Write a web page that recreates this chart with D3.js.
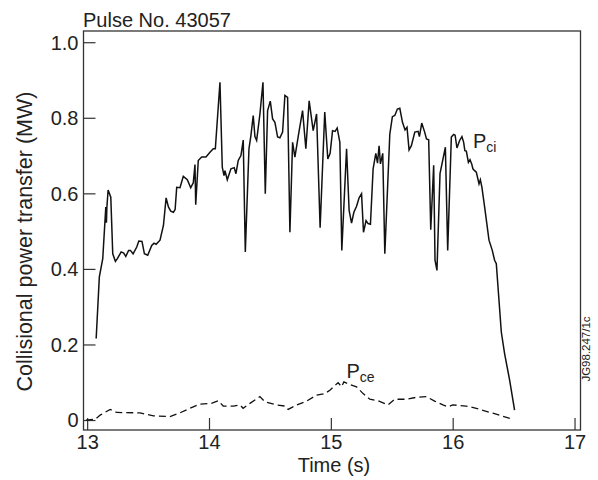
<!DOCTYPE html>
<html>
<head>
<meta charset="utf-8">
<script src="https://cdnjs.cloudflare.com/ajax/libs/d3/7.8.5/d3.min.js"></script>
<style>
  body { margin: 0; background: #fff; }
  svg text { font-family: "Liberation Sans", Arial, Helvetica, sans-serif; fill: #222; }
</style>
</head>
<body>
<div id="chart"></div>
<script>
// ─── Data ───
const pciTime = [13.074,13.100,13.128,13.153,13.158,13.162,13.172,13.194,13.210,13.232,13.248,13.279,13.300,13.317,13.340,13.355,13.377,13.407,13.424,13.450,13.470,13.497,13.530,13.549,13.566,13.598,13.626,13.648,13.667,13.686,13.708,13.722,13.735,13.762,13.789,13.822,13.850,13.871,13.885,13.891,13.912,13.940,13.975,14.008,14.035,14.052,14.090,14.109,14.123,14.131,14.150,14.180,14.207,14.221,14.240,14.262,14.281,14.298,14.328,14.344,14.363,14.377,14.391,14.418,14.443,14.462,14.481,14.503,14.522,14.541,14.563,14.582,14.604,14.623,14.645,14.664,14.686,14.705,14.738,14.768,14.795,14.822,14.855,14.883,14.912,14.950,14.975,14.994,15.014,15.035,15.052,15.074,15.090,15.129,15.150,15.170,15.189,15.211,15.232,15.252,15.268,15.289,15.306,15.325,15.347,15.369,15.383,15.396,15.407,15.426,15.443,15.484,15.505,15.525,15.546,15.566,15.588,15.609,15.625,15.642,15.661,15.689,15.716,15.727,15.746,15.770,15.785,15.803,15.820,15.844,15.855,15.871,15.896,15.940,15.959,15.989,16.008,16.020,16.035,16.057,16.076,16.090,16.100,16.112,16.129,16.142,16.156,16.166,16.180,16.194,16.216,16.227,16.240,16.262,16.298,16.325,16.344,16.358,16.399,16.426,16.467,16.508];
const pciValue = [0.216,0.379,0.427,0.564,0.522,0.564,0.609,0.590,0.440,0.420,0.427,0.445,0.442,0.433,0.449,0.449,0.440,0.458,0.474,0.473,0.440,0.436,0.462,0.468,0.465,0.476,0.515,0.588,0.564,0.553,0.550,0.557,0.616,0.615,0.645,0.636,0.615,0.628,0.676,0.570,0.687,0.696,0.696,0.709,0.718,0.718,0.894,0.669,0.647,0.660,0.636,0.665,0.668,0.652,0.687,0.700,0.741,0.445,0.718,0.753,0.806,0.750,0.740,0.810,0.894,0.599,0.819,0.844,0.797,0.788,0.749,0.747,0.762,0.859,0.854,0.497,0.735,0.696,0.762,0.819,0.718,0.845,0.766,0.810,0.509,0.815,0.691,0.706,0.766,0.764,0.773,0.735,0.449,0.718,0.555,0.521,0.550,0.566,0.588,0.599,0.497,0.528,0.520,0.518,0.665,0.706,0.680,0.726,0.678,0.706,0.440,0.757,0.803,0.806,0.823,0.825,0.788,0.768,0.775,0.715,0.726,0.762,0.764,0.750,0.786,0.762,0.744,0.742,0.504,0.674,0.423,0.396,0.652,0.722,0.449,0.749,0.756,0.754,0.720,0.740,0.750,0.735,0.713,0.712,0.682,0.689,0.678,0.665,0.660,0.656,0.625,0.636,0.616,0.564,0.476,0.449,0.423,0.414,0.233,0.176,0.106,0.026];

const pceTime = [12.990,13.066,13.107,13.189,13.243,13.434,13.544,13.680,13.762,13.871,13.926,14.020,14.076,14.117,14.200,14.254,14.280,14.336,14.418,14.459,14.555,14.623,14.650,14.719,14.800,14.883,14.951,14.992,15.060,15.088,15.107,15.156,15.211,15.265,15.320,15.388,15.470,15.525,15.620,15.700,15.785,15.852,15.920,15.961,16.000,16.110,16.194,16.330,16.490];
const pceValue = [0.000,0.002,0.013,0.028,0.020,0.019,0.011,0.009,0.019,0.035,0.042,0.044,0.051,0.037,0.037,0.040,0.031,0.044,0.062,0.048,0.040,0.037,0.028,0.040,0.050,0.066,0.070,0.079,0.099,0.088,0.101,0.094,0.088,0.070,0.055,0.051,0.040,0.055,0.055,0.060,0.062,0.050,0.040,0.035,0.040,0.037,0.031,0.018,0.002];

const xTicks = [13, 14, 15, 16, 17];
const yTicks = [0, 0.2, 0.4, 0.6, 0.8, 1.0];

const width = 598, height = 480;
const svg = d3.select("#chart").append("svg")
  .attr("width", width).attr("height", height);

svg.append("rect").attr("width", width).attr("height", height).attr("fill", "#fff");

// frame: left 83.5, right 580.5, top 31, bottom 430
const x = d3.scaleLinear().domain([12.97, 17.049]).range([83.5, 580.5]);
const y = d3.scaleLinear().domain([-0.0264, 1.0297]).range([430, 31]);

const axisColor = "#333";

// ─── Axes (ticks inward) ───
const xAxis = svg.append("g")
  .attr("transform", `translate(0,${y.range()[0]})`)
  .call(d3.axisBottom(x).tickValues(xTicks).tickSizeInner(-12).tickSizeOuter(0)
        .tickPadding(5).tickFormat(d3.format("d")));

const yAxis = svg.append("g")
  .attr("transform", `translate(${x.range()[0]},0)`)
  .call(d3.axisLeft(y).tickValues(yTicks).tickSizeInner(-12).tickSizeOuter(0)
        .tickPadding(17).tickFormat(d => d === 0 ? "0" : d.toFixed(1)));

[xAxis, yAxis].forEach(g => {
  g.select(".domain").remove();
  g.selectAll(".tick line").attr("stroke", axisColor).attr("stroke-width", 1.2);
  g.selectAll(".tick text").attr("font-size", 20).attr("fill", "#222");
});
yAxis.selectAll(".tick text").attr("dx", 12).attr("dy", "0.34em");

// frame box
svg.append("rect")
  .attr("x", x.range()[0]).attr("y", y.range()[1])
  .attr("width", x.range()[1] - x.range()[0])
  .attr("height", y.range()[0] - y.range()[1])
  .attr("fill", "none").attr("stroke", axisColor).attr("stroke-width", 1.3);

// ─── Lines ───
const line = d3.line().x(d => x(d[0])).y(d => y(d[1]));

svg.append("path")
  .datum(pceTime.map((t, i) => [t, pceValue[i]]))
  .attr("d", line)
  .attr("fill", "none").attr("stroke", "#111")
  .attr("stroke-width", 1.3).attr("stroke-dasharray", "7,4");

svg.append("path")
  .datum(pciTime.map((t, i) => [t, pciValue[i]]))
  .attr("d", line)
  .attr("fill", "none").attr("stroke", "#111")
  .attr("stroke-width", 1.5).attr("stroke-linejoin", "miter");

// ─── Labels ───
const pci = svg.append("text").attr("x", 473).attr("y", 147.5).attr("font-size", 20);
pci.append("tspan").text("P");
pci.append("tspan").attr("font-size", 14).attr("dy", 4).text("ci");

const pce = svg.append("text").attr("x", 346.5).attr("y", 377.5).attr("font-size", 20);
pce.append("tspan").text("P");
pce.append("tspan").attr("font-size", 14).attr("dy", 4).text("ce");

svg.append("text")
  .attr("x", 83).attr("y", 27)
  .attr("font-size", 20)
  .text("Pulse No. 43057");

svg.append("text")
  .attr("x", 334).attr("y", 472)
  .attr("text-anchor", "middle")
  .attr("font-size", 20)
  .text("Time (s)");

svg.append("text")
  .attr("transform", "translate(32,241.5) rotate(-90)")
  .attr("text-anchor", "middle")
  .attr("font-size", 21.5)
  .text("Collisional power transfer (MW)");

svg.append("text")
  .attr("transform", "translate(590,349) rotate(-90)")
  .attr("text-anchor", "middle")
  .attr("font-size", 11.5)
  .text("JG98.247/1c");
</script>
</body>
</html>
